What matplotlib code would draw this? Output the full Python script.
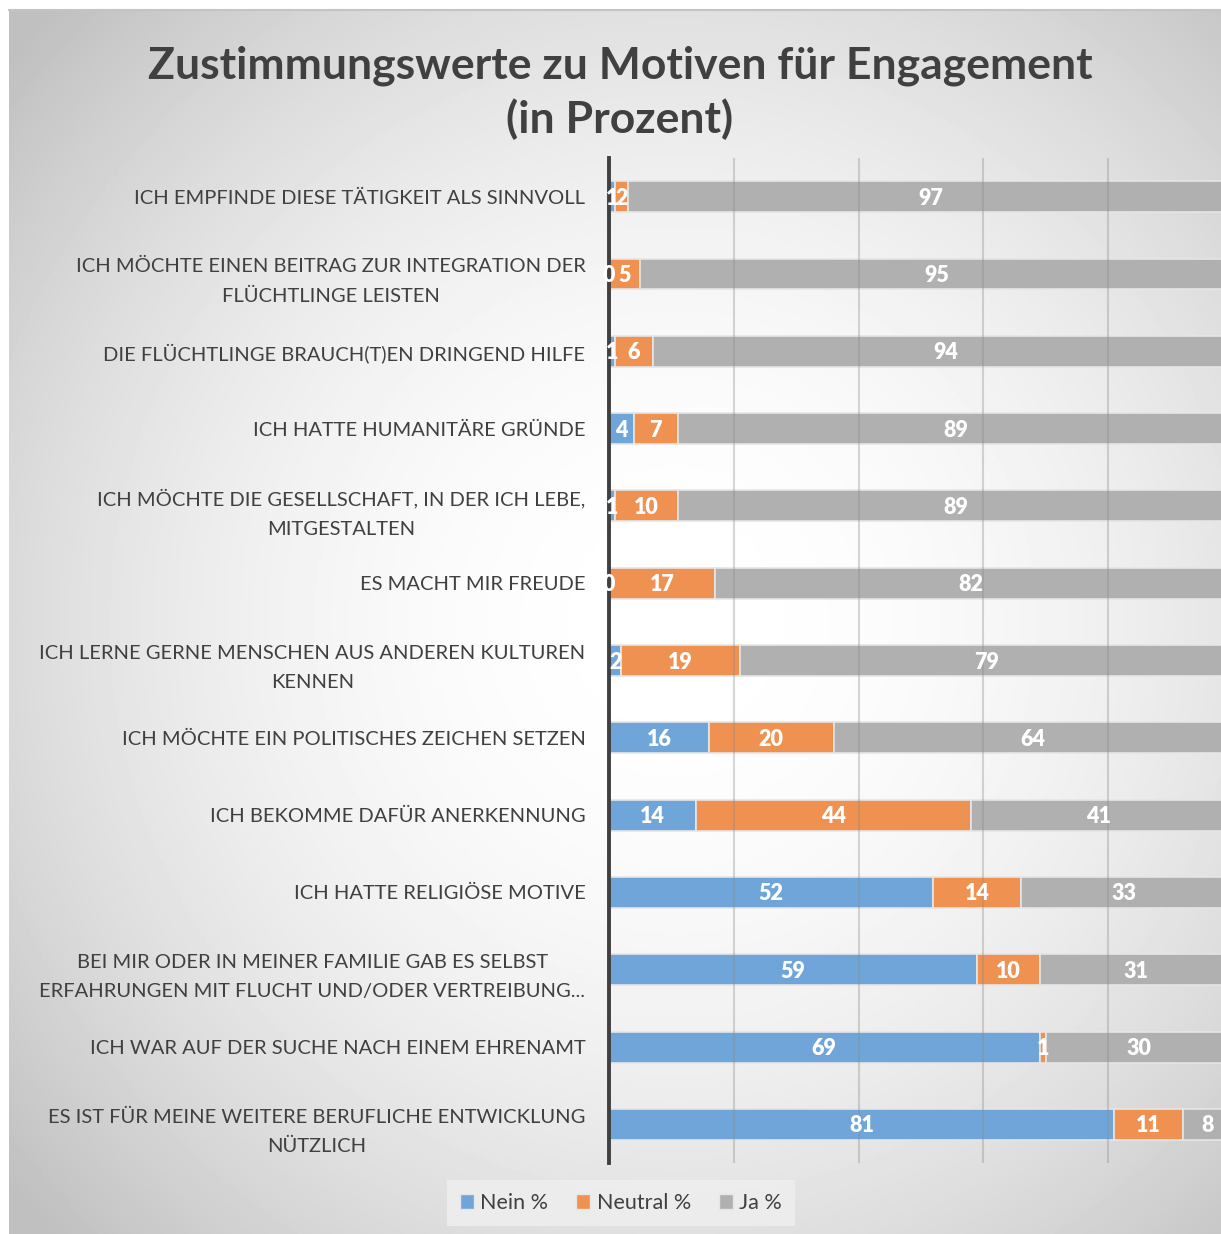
import numpy as np
import matplotlib
matplotlib.use('Agg')
import matplotlib.pyplot as plt
from matplotlib.patches import Patch

plt.rcParams['font.family'] = ['Lato', 'DejaVu Sans']

# --- data (top to bottom) ---
categories = [
    "ICH EMPFINDE DIESE TÄTIGKEIT ALS SINNVOLL",
    "ICH MÖCHTE EINEN BEITRAG ZUR INTEGRATION DER\nFLÜCHTLINGE LEISTEN",
    "DIE FLÜCHTLINGE BRAUCH(T)EN DRINGEND HILFE",
    "ICH HATTE HUMANITÄRE GRÜNDE",
    "ICH MÖCHTE DIE GESELLSCHAFT, IN DER ICH LEBE,\nMITGESTALTEN",
    "ES MACHT MIR FREUDE",
    "ICH LERNE GERNE MENSCHEN AUS ANDEREN KULTUREN\nKENNEN",
    "ICH MÖCHTE EIN POLITISCHES ZEICHEN SETZEN",
    "ICH BEKOMME DAFÜR ANERKENNUNG",
    "ICH HATTE RELIGIÖSE MOTIVE",
    "BEI MIR ODER IN MEINER FAMILIE GAB ES SELBST\nERFAHRUNGEN MIT FLUCHT UND/ODER VERTREIBUNG...",
    "ICH WAR AUF DER SUCHE NACH EINEM EHRENAMT",
    "ES IST FÜR MEINE WEITERE BERUFLICHE ENTWICKLUNG\nNÜTZLICH",
]
nein = [1, 0, 1, 4, 1, 0, 2, 16, 14, 52, 59, 69, 81]
neutral = [2, 5, 6, 7, 10, 17, 19, 20, 44, 14, 10, 1, 11]
ja = [97, 95, 94, 89, 89, 82, 79, 64, 41, 33, 31, 30, 8]
series_names = ["Nein %", "Neutral %", "Ja %"]
colors = ["#6fa5d8", "#ef9150", "#b0b0b0"]

W, H = 1221, 1234
fig = plt.figure(figsize=(W / 100, H / 100), dpi=100)
fig.patch.set_facecolor('white')

# radial gradient background panel (white centre, grey rim)
bg = fig.add_axes([9 / W, 0, 1 - 9 / W, 1 - 10 / H], zorder=-10)
yy, xx = np.mgrid[0:1:400j, 0:1:400j]
r = np.hypot(xx - 0.55, yy - 0.50) / 0.72
grad = 1.0 - 0.25 * np.clip(r, 0, 1) ** 2.0
bg.imshow(grad, cmap='gray', vmin=0, vmax=1, extent=[0, 1, 0, 1], aspect='auto')
bg.set_xticks([])
bg.set_yticks([])
for name, s in bg.spines.items():
    s.set_visible(name == 'top')
bg.spines['top'].set_color('#c4c4c4')
bg.spines['top'].set_linewidth(1.5)

# main chart axes (right part runs past the figure edge, like the cropped original)
ax = fig.add_axes([609 / W, 71 / H, 624 / W, 1005 / H])
ax.set_facecolor('none')

y = np.arange(len(categories))
left = np.zeros(len(categories))
for vals, col in zip([nein, neutral, ja], colors):
    vals = np.array(vals, dtype=float)
    ax.barh(y, vals, left=left, height=0.4, color=col,
            edgecolor='#e6e6e6', linewidth=1.2, zorder=1)
    for yi, l, v in zip(y, left, vals):
        ax.text(l + v / 2, yi + 0.02, f"{int(v)}", ha='center', va='center',
                color='white', fontsize=15.5, fontweight='heavy', zorder=4)
    left = left + vals

ax.set_xlim(0, 100)
ax.set_ylim(len(categories) - 0.5, -0.5)
ax.set_xticks([0, 20, 40, 60, 80, 100])
ax.set_xticklabels([])
ax.tick_params(axis='x', length=0)
ax.grid(axis='x', color='#8c8c8c', alpha=0.35, linewidth=1.5)
ax.set_axisbelow(False)

ax.set_yticks(y)
ax.set_yticklabels(categories, fontsize=14.5, color='#404040',
                   multialignment='center', linespacing=1.85)
ax.tick_params(axis='y', length=0, pad=17)

for name, s in ax.spines.items():
    s.set_visible(name == 'left')
ax.spines['left'].set_color('#404040')
ax.spines['left'].set_linewidth(2.8)
ax.spines['left'].set_zorder(3)

fig.text(620 / W, 1 - 93 / H, "Zustimmungswerte zu Motiven für Engagement\n(in Prozent)",
         ha='center', va='center', fontsize=32, fontweight='bold',
         color='#404040', linespacing=1.35)

handles = [Patch(facecolor=c, edgecolor='#e6e6e6') for c in colors]
leg = fig.legend(handles, series_names, loc='center', ncol=3,
                 bbox_to_anchor=(621 / W, 1 - 1203 / H), fontsize=15.5,
                 frameon=True, fancybox=False, facecolor='#eeeeee',
                 edgecolor='none', framealpha=0.9, handlelength=0.65,
                 handleheight=0.65, handletextpad=0.3, columnspacing=1.3,
                 borderpad=0.6)
for t in leg.get_texts():
    t.set_color('#404040')

fig.savefig('out.png', dpi=100)
